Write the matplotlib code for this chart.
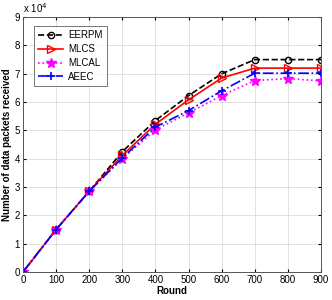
import matplotlib
matplotlib.use("Agg")
import matplotlib.pyplot as plt

plt.rcParams['font.family'] = ['Liberation Sans', 'DejaVu Sans']

# data (in units of 1e4 packets)
rounds = [0, 100, 200, 300, 400, 500, 600, 700, 800, 900]
eerpm = [0, 1.5, 2.85, 4.25, 5.35, 6.23, 7.0, 7.5, 7.5, 7.5]
mlcs  = [0, 1.5, 2.85, 4.12, 5.22, 6.08, 6.85, 7.2, 7.2, 7.2]
mlcal = [0, 1.5, 2.85, 4.0, 5.02, 5.62, 6.23, 6.76, 6.83, 6.75]
aeec  = [0, 1.5, 2.85, 4.03, 5.12, 5.7, 6.4, 7.02, 7.02, 7.02]

fig = plt.figure(figsize=(3.32, 3.0), dpi=100)
ax = fig.add_axes([0.069, 0.093, 0.898, 0.850])

ax.plot(rounds, eerpm, 'k--o', lw=1.2, ms=4.5, mfc='none', mew=1.0, label='EERPM')
ax.plot(rounds, mlcs, 'r-', marker='>', lw=1.2, ms=5.5, mfc='none', mew=1.0, label='MLCS')
ax.plot(rounds, mlcal, color='magenta', ls=':', marker='*', lw=1.2, ms=7, label='MLCAL')
ax.plot(rounds, aeec, 'b-.', marker='+', lw=1.2, ms=6, mew=1.2, label='AEEC')

ax.set_xlim(0, 900)
ax.set_ylim(0, 9)
ax.set_xticks(range(0, 901, 100))
ax.set_yticks(range(0, 10))
ax.tick_params(direction='in', top=True, right=True, labelsize=7, length=2, pad=2)
ax.grid(True, color='#dcdcdc', lw=0.6)
for s in ax.spines.values():
    s.set_color('#555555')
    s.set_linewidth(0.7)

ax.set_xlabel('Round', fontsize=7, fontweight='bold', labelpad=1)
ax.set_ylabel('Number of data packets received', fontsize=7, fontweight='bold', labelpad=2)
ax.text(0.0, 1.01, r'x 10$^4$', transform=ax.transAxes, fontsize=7, ha='left', va='bottom')

leg = ax.legend(loc='upper left', fontsize=7, frameon=True, fancybox=False,
                edgecolor='#555555', handlelength=2.6, handletextpad=0.5,
                labelspacing=0.4, borderpad=0.45,
                bbox_to_anchor=(0.02, 0.985))
leg.get_frame().set_linewidth(0.7)

fig.savefig('out.png', dpi=100)
